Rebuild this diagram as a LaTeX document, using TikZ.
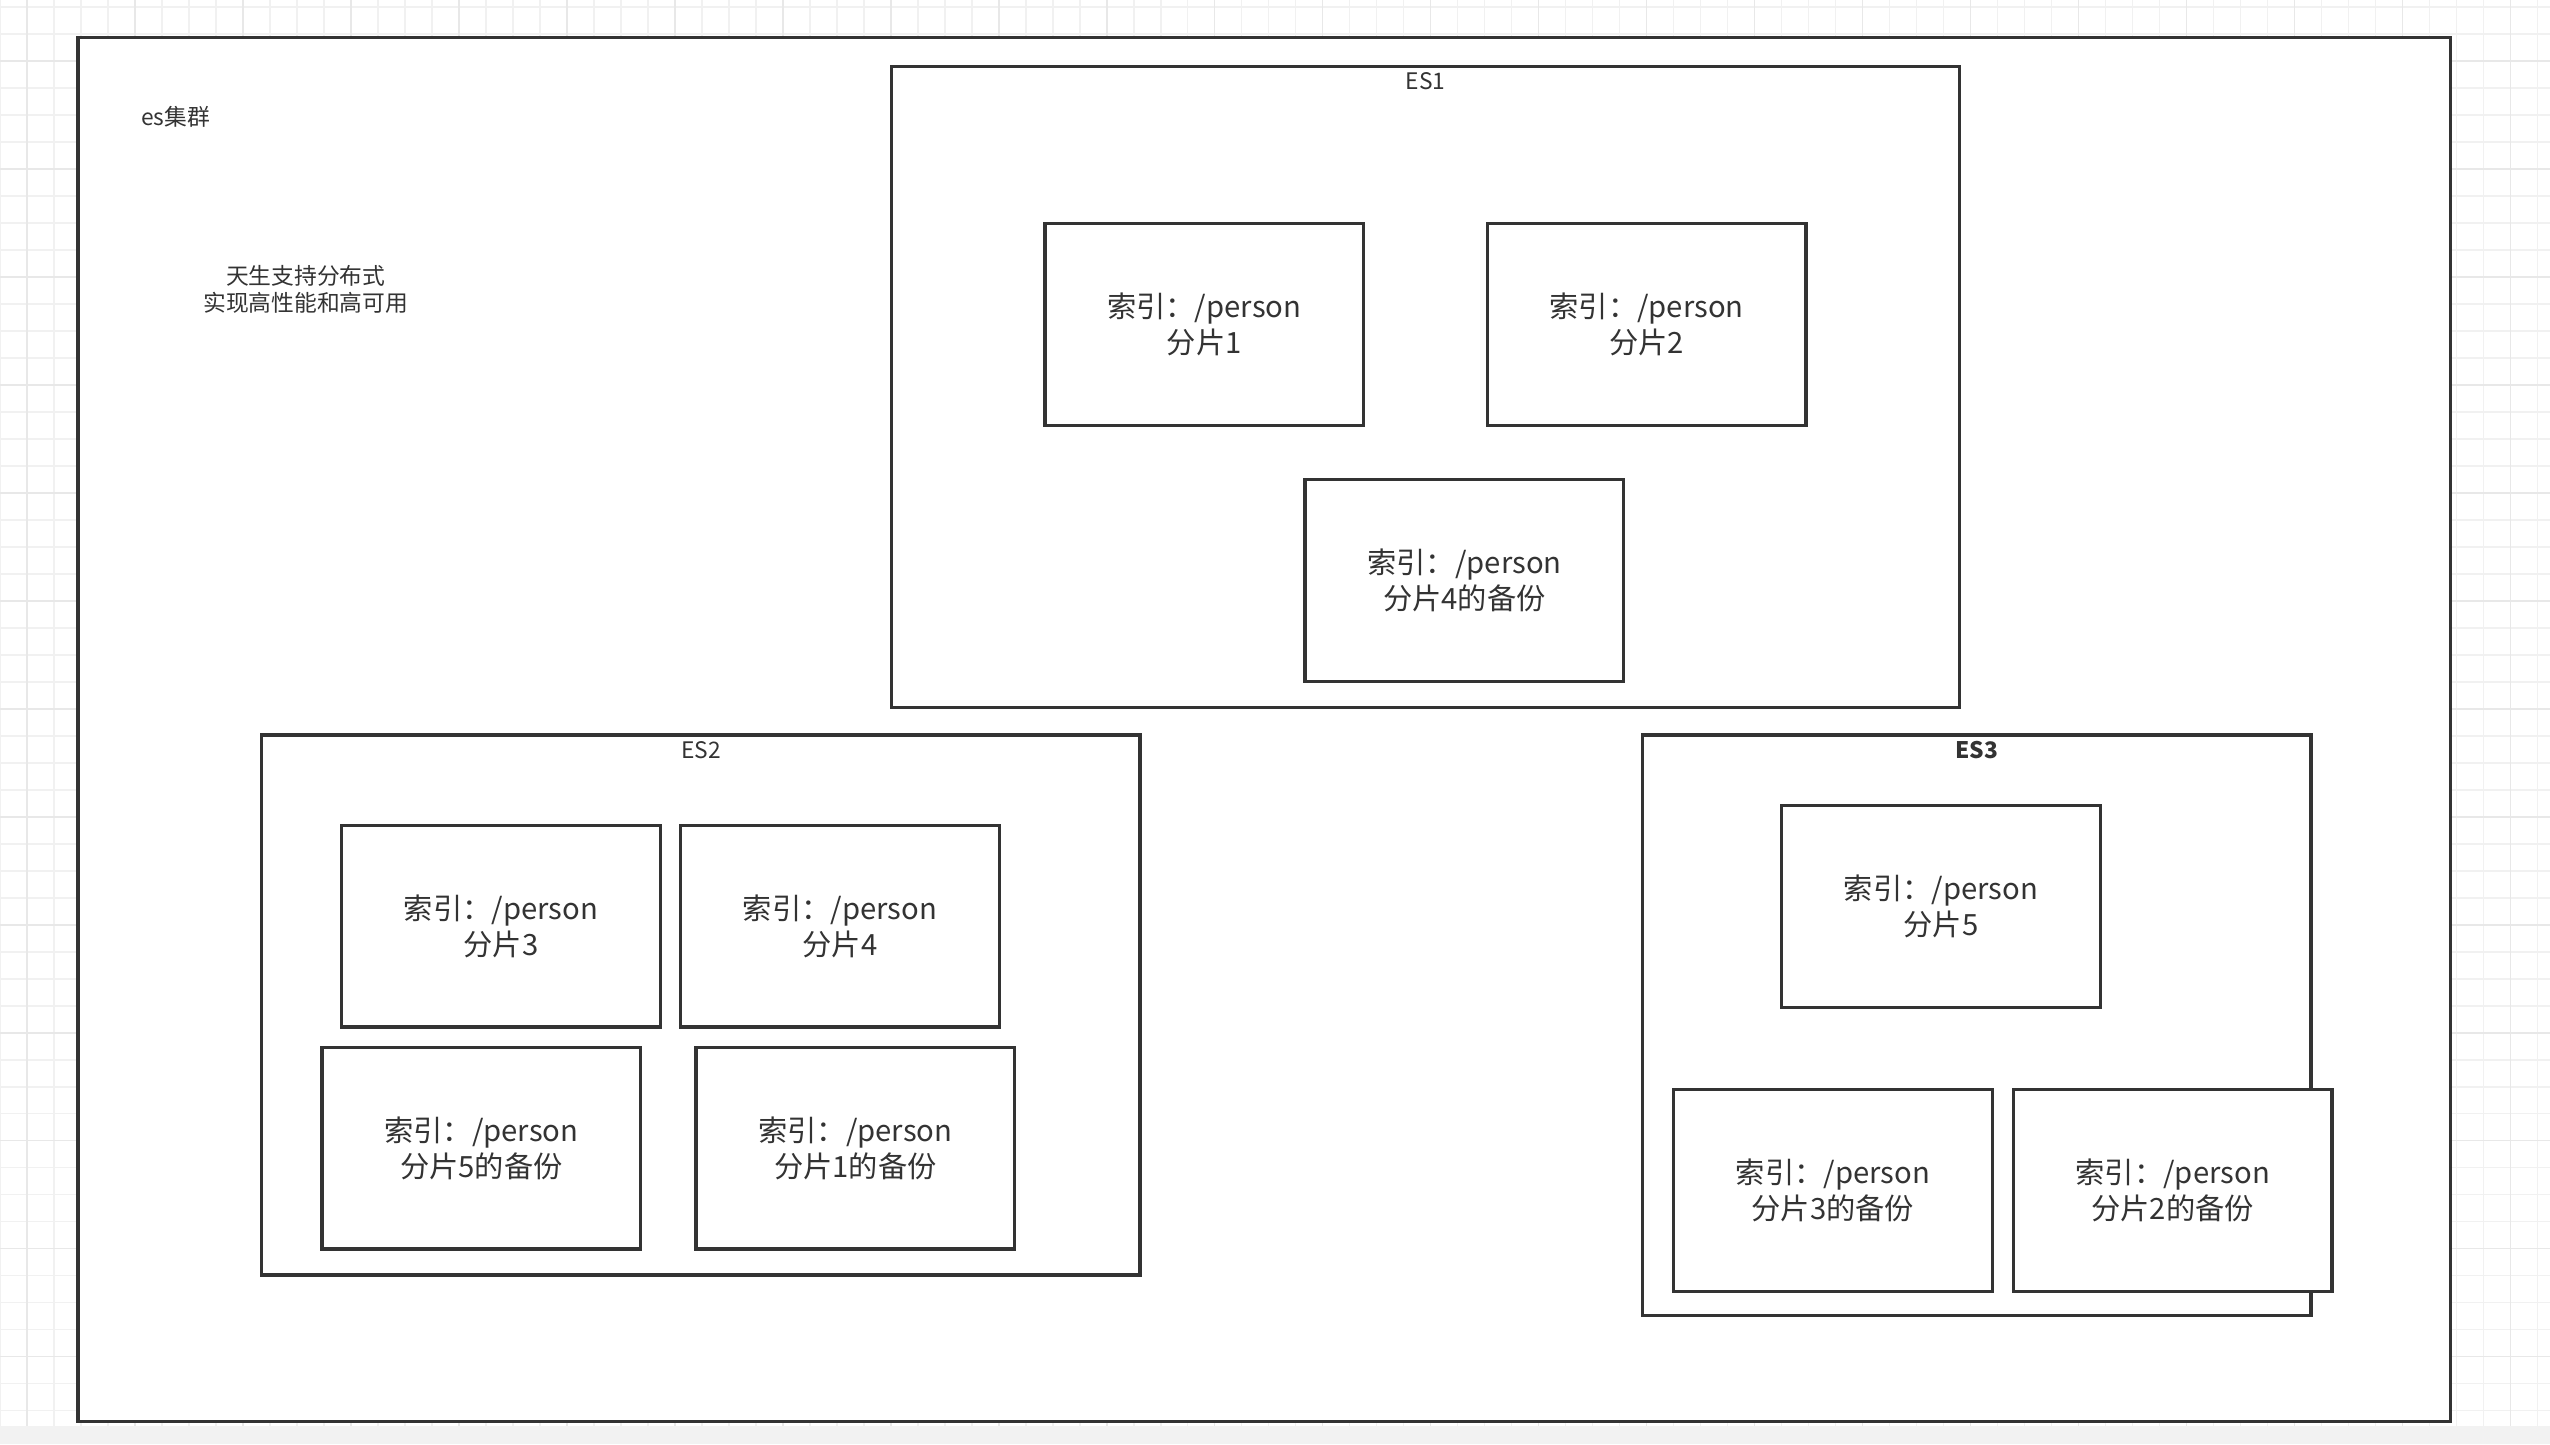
\documentclass[tikz,border=0pt]{standalone}
\usepackage{fontspec}
\setmainfont{Noto Sans CJK SC}
\usepackage{xcolor}
\usepackage{tikz}
\definecolor{linegray}{HTML}{333333}
\definecolor{textgray}{HTML}{333333}
\definecolor{minorgrid}{HTML}{F1F1F1}
\definecolor{majorgrid}{HTML}{E8E8E8}
\definecolor{stripgray}{HTML}{F2F2F2}

\begin{document}
\begin{tikzpicture}[x=1pt,y=-1pt,
	cluster/.style={draw=linegray,fill=white,line width=2pt,inner sep=0pt},
	shard/.style={draw=linegray,fill=white,line width=2pt,minimum width=196pt,minimum height=124pt,
		align=center,text=textgray,font=\fontsize{18}{22}\selectfont},
	title/.style={anchor=north,text=textgray,inner sep=0pt,font=\fontsize{14}{16}\selectfont},
	note/.style={text=textgray,align=center,font=\fontsize{14}{17}\selectfont}]
	\useasboundingbox (0,0) rectangle (1568,888);
	% background grid
	\foreach \i in {0,...,94}
		\draw[minorgrid,line width=0.8pt] (\i*16.6,0) -- (\i*16.6,888);
	\foreach \j in {0,...,53}
		\draw[minorgrid,line width=0.8pt] (0,4.3+\j*16.6) -- (1568,4.3+\j*16.6);
	\foreach \i in {0,...,23}
		\draw[majorgrid,line width=0.8pt] (16.6+\i*66.4,0) -- (16.6+\i*66.4,888);
	\foreach \j in {0,...,13}
		\draw[majorgrid,line width=0.8pt] (0,37.5+\j*66.4) -- (1568,37.5+\j*66.4);
	\fill[stripgray] (0,877) rectangle (1568,888);
	%
	\node[cluster,minimum width=1459pt,minimum height=851pt] (C) at (777.5,448.5) {};
	\node[note] (Cname) at (108,72) {es集群};
	\node[note] (Cnote) at (188,178) {天生支持分布式\\实现高性能和高可用};
	%
	\node[cluster,minimum width=657pt,minimum height=394pt] (E1) at (876.5,238) {};
	\node[title] (E1t) at ([yshift=-4.5pt]E1.north) {ES1};
	\node[shard] (S1) at (740.5,199.5) {索引：/person\\分片1};
	\node[shard] (S2) at (1012.5,199.5) {索引：/person\\分片2};
	\node[shard] (S4b) at (900.5,357) {索引：/person\\分片4的备份};
	%
	\node[cluster,minimum width=540pt,minimum height=332pt] (E2) at (431,618) {};
	\node[title] (E2t) at ([yshift=-4.5pt]E2.north) {ES2};
	\node[shard] (S3) at (308,569.5) {索引：/person\\分片3};
	\node[shard] (S4) at (516.5,569.5) {索引：/person\\分片4};
	\node[shard] (S5b) at (296,706) {索引：/person\\分片5的备份};
	\node[shard] (S1b) at (526,706) {索引：/person\\分片1的备份};
	%
	\node[cluster,minimum width=411pt,minimum height=357pt] (E3) at (1215.5,630.5) {};
	\node[title,font=\fontsize{14}{16}\selectfont\bfseries] (E3t) at ([yshift=-4.5pt]E3.north) {ES3};
	\node[shard] (S5) at (1193.5,557.5) {索引：/person\\分片5};
	\node[shard] (S3b) at (1127,732) {索引：/person\\分片3的备份};
	\node[shard] (S2b) at (1336,732) {索引：/person\\分片2的备份};
\end{tikzpicture}
\end{document}
